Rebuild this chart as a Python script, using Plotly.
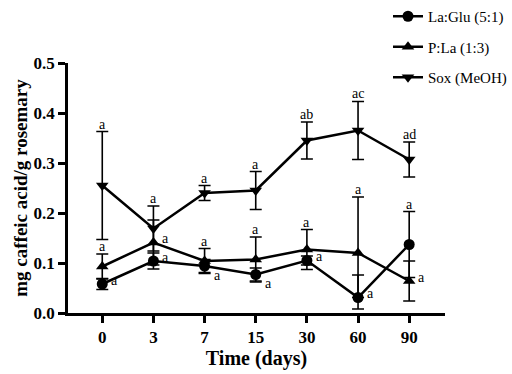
import plotly.graph_objects as go

days = ["0", "3", "7", "15", "30", "60", "90"]
x_idx = list(range(len(days)))

laglu = [0.058, 0.104, 0.094, 0.077, 0.105, 0.031, 0.137]
laglu_err = [0.011, 0.016, 0.013, 0.013, 0.009, 0.045, 0.066]
laglu_err_minus = [0.011, 0.016, 0.013, 0.013, 0.009, 0.0, 0.066]

pla = [0.093, 0.141, 0.104, 0.107, 0.127, 0.120, 0.064]
pla_err = [0.025, 0.045, 0.025, 0.045, 0.040, 0.112, 0.040]

sox = [0.255, 0.169, 0.240, 0.245, 0.345, 0.365, 0.307]
sox_err = [0.108, 0.045, 0.015, 0.038, 0.037, 0.058, 0.035]

letters_sox = ["a", "a", "a", "a", "ab", "ac", "ad"]
letters_pla = ["a", "a", "a", "a", "a", "a", "a"]
letters_laglu = ["a", "a", "a", "a", "a", "a", "a"]
pla_pos = ["top", "right", "top", "top", "top", "top", "right"]
laglu_pos = ["right", "right", "rightlow", "rightlow", "right", "right", "top"]

serif = "Liberation Serif"

# layout geometry (pixels)
W, H = 512, 374
ML, MR, MT, MB = 68, 2, 0, 61
AX_W, AX_H = 377, 250
plot_w = W - ML - MR
plot_h = H - MT - MB

fig = go.Figure()

def add(name, y, err, symbol, errminus=None):
    eb = dict(type="data", array=err, visible=True, color="black", thickness=1.6, width=6)
    if errminus is not None:
        eb["symmetric"] = False
        eb["arrayminus"] = errminus
    fig.add_trace(go.Scatter(
        x=x_idx, y=y, name=name, mode="lines+markers",
        line=dict(color="black", width=2.5),
        marker=dict(symbol=symbol, size=11, color="black"),
        error_y=eb, legendgroup=name,
    ))

add("La:Glu (5:1)", laglu, laglu_err, "circle", laglu_err_minus)
add("P:La (1:3)", pla, pla_err, "triangle-up")
add("Sox (MeOH)", sox, sox_err, "triangle-down")

ann = []
lf = dict(family=serif, size=14, color="black")
def letter(xi, y, txt, pos, err):
    if pos == "top":
        ann.append(dict(x=xi, y=y + err, text=txt, showarrow=False, yanchor="bottom",
                        xanchor="center", yshift=-2, font=lf))
    elif pos == "right":
        ann.append(dict(x=xi, y=y, text=txt, showarrow=False, yanchor="middle",
                        xanchor="left", xshift=7, yshift=4, font=lf))
    else:
        ann.append(dict(x=xi, y=y, text=txt, showarrow=False, yanchor="middle",
                        xanchor="left", xshift=7, yshift=-9, font=lf))

for i in x_idx:
    letter(i, sox[i], letters_sox[i], "top", sox_err[i])
    letter(i, pla[i], letters_pla[i], pla_pos[i], pla_err[i])
    letter(i, laglu[i], letters_laglu[i], laglu_pos[i], laglu_err[i])

fig.update_layout(
    width=W, height=H,
    margin=dict(l=ML, r=MR, t=MT, b=MB),
    paper_bgcolor="white", plot_bgcolor="white",
    font=dict(family=serif, color="black"),
    annotations=ann,
    showlegend=True,
    legend=dict(x=(388 - ML) / plot_w, y=1.0,
                xanchor="left", yanchor="top",
                font=dict(family=serif, size=15, color="black"),
                itemwidth=30, tracegroupgap=8, bgcolor="rgba(0,0,0,0)"),
    xaxis=dict(
        domain=[0, AX_W / plot_w],
        range=[-0.67, 6.7], tickmode="array", tickvals=x_idx, ticktext=days,
        showline=True, linecolor="black", linewidth=2.5,
        ticks="outside", ticklen=7, tickwidth=2.5, tickcolor="black",
        showgrid=False, zeroline=False, automargin=False,
        tickfont=dict(family=serif, size=17, color="black", weight="bold"),
        title=dict(text="<b>Time (days)</b>", font=dict(family=serif, size=20, color="black"), standoff=2),
    ),
    yaxis=dict(
        domain=[0, AX_H / plot_h],
        range=[0, 0.5], tickvals=[0, 0.1, 0.2, 0.3, 0.4, 0.5], tickformat=".1f",
        showline=True, linecolor="black", linewidth=2.5,
        ticks="outside", ticklen=7, tickwidth=2.5, tickcolor="black",
        showgrid=False, zeroline=False, automargin=False,
        tickfont=dict(family=serif, size=17, color="black", weight="bold"),
        title=dict(text="<b>mg caffeic acid/g rosemary</b>", font=dict(family=serif, size=19, color="black"), standoff=1),
    ),
)

fig.write_html("out.html", config={"displayModeBar": False},
               post_script="document.body.style.margin='0px';")
